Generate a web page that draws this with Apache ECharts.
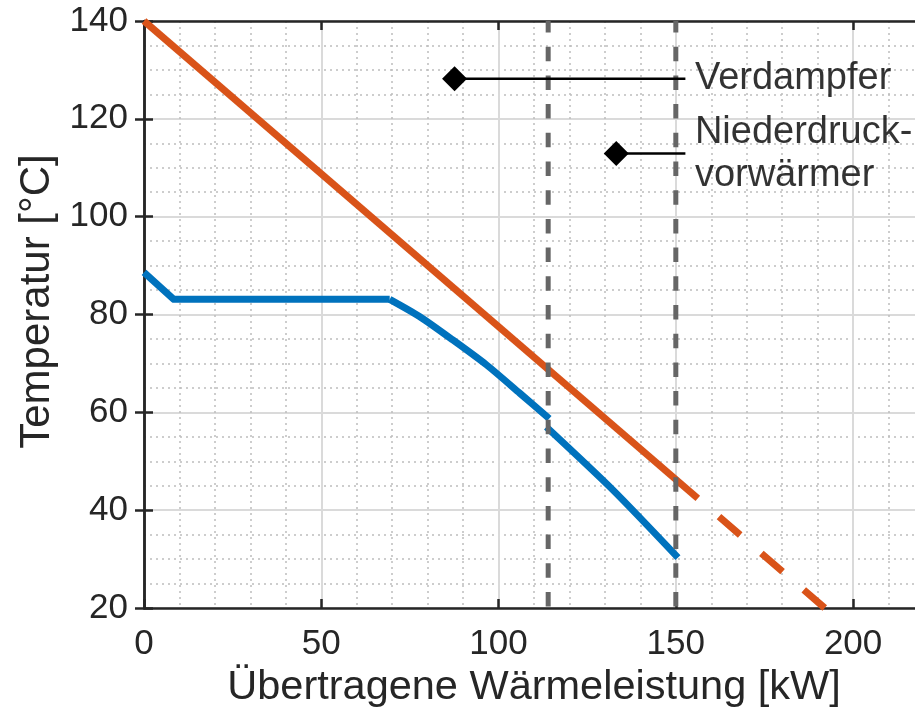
<!DOCTYPE html>
<html>
<head>
<meta charset="utf-8">
<script src="https://cdn.jsdelivr.net/npm/echarts@6/dist/echarts.min.js"></script>
<style>
html,body{margin:0;padding:0;background:#fff;}
#chart{width:915px;height:719px;}
</style>
</head>
<body>
<div id="chart"></div>
<script>
// ---- data ----
const orangeQ = [0, 156.2, 192];          // kW
const orangeT = [140, 42.4, 20];          // °C (solid part: idx 0-1, dashed part: idx 1-2)
const blueFlatQ = [0, 8.4, 69.3];
const blueFlatT = [88.6, 83.1, 83.1];
const blueCurveQ = [69.3, 77.7, 87.1, 96.6, 106, 114.3];
const blueCurveT = [83.1, 79.6, 74.8, 69.7, 63.9, 58.7];
const blueLowerQ = [113.5, 132.3, 150.6];
const blueLowerT = [57.0, 44.1, 30.3];
const boundaryQ = [114, 150];             // dashed vertical lines
const markerQ = [87.6, 133.2];
const markerT = [128.2, 112.9];
const leaderEndQ = [152.7, 152.7];
const annotationLabels = ['Verdampfer', 'Niederdruck-\nvorwärmer'];
const xTickValues = [0, 50, 100, 150, 200];
const yTickValues = [20, 40, 60, 80, 100, 120, 140];

const zip = (a, b) => a.map((v, i) => [v, b[i]]);

const FONT = 'Liberation Sans, Arial, Helvetica, sans-serif';
const AX = '#262626';
const series = [];

series.push({
  type: 'line', name: 'Heiss', data: zip(orangeQ, orangeT).slice(0, 2),
  showSymbol: false, symbol: 'none', clip: false, z: 3,
  lineStyle: {color: '#D95319', width: 7, cap: 'butt'}
});
series.push({
  type: 'line', name: 'Heiss gestrichelt', data: zip(orangeQ, orangeT).slice(1, 3),
  showSymbol: false, symbol: 'none', z: 3,
  lineStyle: {color: '#D95319', width: 7, type: [28, 28], dashOffset: 28, cap: 'butt'}
});
series.push({
  type: 'line', name: 'Kalt 1a', data: zip(blueFlatQ, blueFlatT),
  showSymbol: false, symbol: 'none', clip: false, z: 3,
  lineStyle: {color: '#0072BD', width: 7, cap: 'butt', join: 'round'}
});
series.push({
  type: 'line', name: 'Kalt 1b', data: zip(blueCurveQ, blueCurveT),
  showSymbol: false, symbol: 'none', z: 3, smooth: 0.25,
  lineStyle: {color: '#0072BD', width: 7, cap: 'butt', join: 'round'}
});
series.push({
  type: 'line', name: 'Kalt 2', data: zip(blueLowerQ, blueLowerT),
  showSymbol: false, symbol: 'none', z: 3, smooth: 0.25,
  lineStyle: {color: '#0072BD', width: 7, cap: 'butt', join: 'round'}
});
boundaryQ.forEach((q, i) => {
  series.push({
    type: 'line', name: 'Grenze ' + i, data: [[q, 140], [q, 20]],
    showSymbol: false, symbol: 'none', z: 4,
    lineStyle: {color: '#666666', width: 5, type: [14.5, 14.2], dashOffset: 3, cap: 'butt'}
  });
});
markerQ.forEach((q, i) => {
  series.push({
    type: 'line', name: 'Leader ' + i, data: [[q, markerT[i]], [leaderEndQ[i], markerT[i]]],
    showSymbol: false, symbol: 'none', z: 5,
    lineStyle: {color: '#000', width: 2.5}
  });
});
series.push({
  type: 'scatter', name: 'Marker', data: zip(markerQ, markerT),
  symbol: 'diamond', symbolSize: 25, z: 6,
  itemStyle: {color: '#000', opacity: 1}
});
series.push({
  type: 'scatter', name: 'Beschriftung',
  data: leaderEndQ.map((q, i) => ({value: [q, markerT[i]], name: annotationLabels[i]})),
  symbolSize: 1, z: 6, itemStyle: {color: 'rgba(0,0,0,0)'},
  label: {
    show: true, position: 'right', distance: 9,
    formatter: p => p.name, color: '#000',
    fontFamily: FONT, fontSize: 38, lineHeight: 43, align: 'left', verticalAlign: 'middle'
  }
});

const xBase = {
  type: 'value', min: 0, max: 220, interval: 50,
  axisLine: {show: true, lineStyle: {color: AX, width: 2.5}},
  axisTick: {show: true, inside: true, length: 9, lineStyle: {color: AX, width: 2.5}},
};
const yBase = {
  type: 'value', min: 20, max: 140, interval: 20,
  axisLine: {show: true, lineStyle: {color: AX, width: 2.5}},
  axisTick: {show: true, inside: true, length: 9, lineStyle: {color: AX, width: 2.5}},
};

const option = {
  animation: false,
  backgroundColor: '#fff',
  grid: {left: 144, top: 21, width: 780, bottom: 111, containLabel: false, outerBoundsMode: 'none'},
  xAxis: [
    Object.assign({}, xBase, {
      position: 'bottom',
      name: 'Übertragene Wärmeleistung [kW]', nameLocation: 'middle', nameGap: 50,
      nameTextStyle: {fontFamily: FONT, fontSize: 41.5, color: AX},
      axisLabel: {
        show: true, margin: 19, color: AX, fontFamily: FONT, fontSize: 35,
        showMaxLabel: false,
        formatter: v => xTickValues.includes(v) ? String(v) : ''
      },
      splitLine: {show: true, lineStyle: {color: '#dadada', width: 2}},
      minorTick: {show: false, splitNumber: 5},
      minorSplitLine: {show: true, lineStyle: {color: '#bdbdbd', width: 1.5, type: [2, 4]}}
    }),
    Object.assign({}, xBase, {
      position: 'top', axisLabel: {show: false}, splitLine: {show: false}
    })
  ],
  yAxis: [
    Object.assign({}, yBase, {
      position: 'left',
      name: 'Temperatur [°C]', nameLocation: 'middle', nameGap: 79, nameRotate: 90,
      nameTextStyle: {fontFamily: FONT, fontSize: 42, color: AX, padding: [0, 0, 0, 26]},
      axisLabel: {
        show: true, margin: 16, color: AX, fontFamily: FONT, fontSize: 35,
        formatter: v => yTickValues.includes(v) ? String(v) : ''
      },
      splitLine: {show: true, lineStyle: {color: '#dadada', width: 2}},
      minorTick: {show: false, splitNumber: 4},
      minorSplitLine: {show: true, lineStyle: {color: '#bdbdbd', width: 1.5, type: [2, 4]}}
    }),
    Object.assign({}, yBase, {
      position: 'right', axisLabel: {show: false}, splitLine: {show: false}
    })
  ],
  series: series
};

const chart = echarts.init(document.getElementById('chart'), null, {renderer: 'canvas'});
chart.setOption(option);
</script>
</body>
</html>
